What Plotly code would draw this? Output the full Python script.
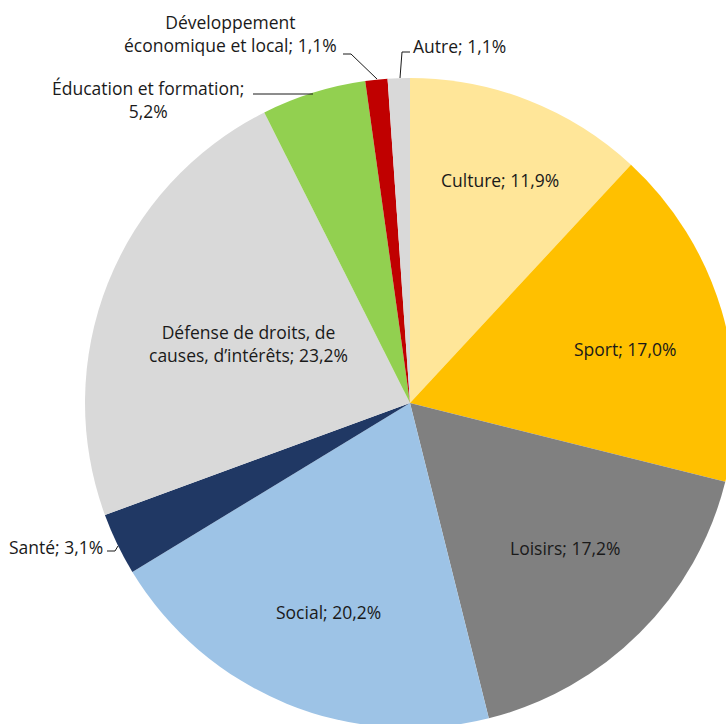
import plotly.graph_objects as go

categories = ["Culture", "Sport", "Loisirs", "Social", "Santé",
              "Défense de droits, de causes, d’intérêts",
              "Éducation et formation", "Développement économique et local", "Autre"]
values = [11.9, 17.0, 17.2, 20.2, 3.1, 23.2, 5.2, 1.1, 1.1]
colors = ["#FFE699", "#FFC000", "#808080", "#9DC3E6", "#203864",
          "#D9D9D9", "#92D050", "#C00000", "#D9D9D9"]
label_texts = ["Culture; 11,9%", "Sport; 17,0%", "Loisirs; 17,2%", "Social; 20,2%",
               "Santé; 3,1%", "Défense de droits, de<br>causes, d’intérêts; 23,2%",
               "Éducation et formation;<br>5,2%", "Développement<br>économique et local; 1,1%",
               "Autre; 1,1%"]

W, H = 740, 735
CX, CY, R = 410, 403, 325

def px(x):
    return x / W

def py(y):
    return 1 - y / H

fig = go.Figure(go.Pie(
    labels=categories, values=values, sort=False, direction="clockwise",
    rotation=0, marker=dict(colors=colors, line=dict(width=0)),
    textinfo="none", hoverinfo="label+percent",
    domain=dict(x=[px(CX - R), px(CX + R)], y=[py(CY + R), py(CY - R)]),
    showlegend=False,
))

# label placement (pixel positions) and anchors
label_pos = [
    (500, 180, "center"), (625, 349, "center"), (565, 548, "center"), (328, 612, "center"),
    (105, 547, "right"), (248, 343, "center"), (148, 99, "center"), (230, 34, "center"),
    (411, 46, "left"),
]
FONT = dict(family="'Open Sans', Lato, sans-serif", size=17.5, color="#1a1a1a")
for txt, (x, y, anc) in zip(label_texts, label_pos):
    fig.add_annotation(x=px(x), y=py(y), xref="paper", yref="paper", text=txt,
                       showarrow=False, xanchor=anc, yanchor="middle", align="center",
                       font=FONT)

# leader lines
leaders = [
    [(343, 54), (351, 54), (377, 79)],
    [(410, 52), (402, 52), (400, 78)],
    [(253, 94), (313, 94)],
    [(107, 551), (115, 551), (118, 546)],
]
for pts in leaders:
    path = "M " + " L ".join(f"{px(a)},{py(b)}" for a, b in pts)
    fig.add_shape(type="path", path=path, xref="paper", yref="paper",
                  line=dict(color="#1a1a1a", width=1))

fig.update_layout(width=W, height=H, margin=dict(l=0, r=0, t=0, b=0),
                  paper_bgcolor="white", plot_bgcolor="white")

fig.write_html("out.html", config={"displayModeBar": False}, post_script=(
    "document.body.style.margin='0';document.body.style.overflow='hidden';"
    "document.documentElement.style.overflow='hidden';"))
